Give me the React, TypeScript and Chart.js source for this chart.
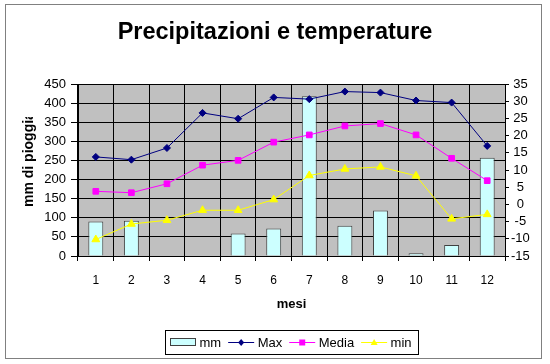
import React, { useEffect, useRef } from 'react';
import { Chart, registerables } from 'chart.js';

Chart.register(...registerables);

const FONT = "'Liberation Sans', Arial, Helvetica, sans-serif";

const chartTitle = 'Precipitazioni e temperature';
const xTitle = 'mesi';
const yTitle = 'mm di pioggia';

const months = ['1', '2', '3', '4', '5', '6', '7', '8', '9', '10', '11', '12'];
const rainfall = [90, 92, 0, 0, 59, 72, 418, 79, 119, 7, 29, 257];
const tempMax = [13.8, 13.0, 16.4, 26.6, 24.9, 31.1, 30.6, 32.8, 32.5, 30.2, 29.6, 17.0];
const tempMedia = [3.8, 3.4, 6.0, 11.4, 12.8, 18.1, 20.2, 22.8, 23.5, 20.2, 13.4, 6.9];
const tempMin = [-10.2, -5.7, -4.6, -1.7, -1.7, 1.4, 8.4, 10.3, 10.9, 8.3, -4.2, -2.9];

const seriesNames = ['mm', 'Max', 'Media', 'min'];

const BAR_FILL = '#ccffff';
const BAR_BORDER = '#404040';
const MAX_COLOR = '#000080';
const MEDIA_COLOR = '#ff00ff';
const MIN_COLOR = '#ffff00';

function drawMarker(ctx: CanvasRenderingContext2D, style: string, x: number, y: number, color: string) {
  ctx.save();
  ctx.fillStyle = color;
  ctx.strokeStyle = color;
  ctx.beginPath();
  if (style === 'diamond') {
    ctx.moveTo(x, y - 3.5);
    ctx.lineTo(x + 3, y);
    ctx.lineTo(x, y + 3.5);
    ctx.lineTo(x - 3, y);
    ctx.closePath();
  } else if (style === 'square') {
    ctx.rect(x - 3, y - 3, 6, 6);
  } else {
    ctx.moveTo(x, y - 3.5);
    ctx.lineTo(x + 3.5, y + 2.5);
    ctx.lineTo(x - 3.5, y + 2.5);
    ctx.closePath();
  }
  ctx.fill();
  ctx.restore();
}

const decorPlugin = {
  id: 'decor',
  beforeDraw(chart: any) {
    const { ctx, chartArea: a } = chart;
    ctx.save();
    ctx.fillStyle = '#ffffff';
    ctx.fillRect(0, 0, chart.width, chart.height);
    ctx.strokeStyle = '#808080';
    ctx.lineWidth = 1;
    ctx.strokeRect(5.5, 4.5, 536, 354);
    ctx.fillStyle = '#c0c0c0';
    ctx.fillRect(a.left, a.top, a.right - a.left, a.bottom - a.top);
    ctx.restore();
  },
  afterDraw(chart: any) {
    const { ctx } = chart;
    // rotated left axis title (clipped like the original)
    ctx.save();
    ctx.beginPath();
    ctx.rect(0, 117, 78, 200);
    ctx.clip();
    ctx.translate(29, 207);
    ctx.rotate(-Math.PI / 2);
    ctx.font = `bold 14px ${FONT}`;
    ctx.textAlign = 'left';
    ctx.textBaseline = 'middle';
    ctx.fillStyle = '#000000';
    ctx.fillText(yTitle, 0, 0);
    ctx.restore();

    // legend
    ctx.save();
    ctx.font = `13px ${FONT}`;
    ctx.textBaseline = 'alphabetic';
    ctx.textAlign = 'left';
    const boxLeft = 165.5;
    const boxTop = 330.5;
    const boxRight = 418.5;
    const boxBottom = 354.5;
    ctx.fillStyle = '#ffffff';
    ctx.fillRect(boxLeft, boxTop, boxRight - boxLeft, boxBottom - boxTop);
    ctx.strokeStyle = '#000000';
    ctx.lineWidth = 1;
    ctx.strokeRect(boxLeft, boxTop, boxRight - boxLeft, boxBottom - boxTop);
    const midY = 342;
    const baseY = 347;
    let x = 170;
    const colors = [BAR_FILL, MAX_COLOR, MEDIA_COLOR, MIN_COLOR];
    const markers = ['', 'diamond', 'square', 'triangle'];
    seriesNames.forEach((name, i) => {
      const sw = 26;
      if (i === 0) {
        ctx.fillStyle = BAR_FILL;
        ctx.fillRect(x, 338, sw, 7);
        ctx.strokeStyle = BAR_BORDER;
        ctx.strokeRect(x + 0.5, 338.5, sw - 1, 7);
      } else {
        ctx.strokeStyle = colors[i];
        ctx.lineWidth = 1;
        ctx.beginPath();
        ctx.moveTo(x, midY + 0.5);
        ctx.lineTo(x + sw, midY + 0.5);
        ctx.stroke();
        drawMarker(ctx, markers[i], x + sw / 2, midY + 0.5, colors[i]);
      }
      x += sw + 3.5;
      ctx.fillStyle = '#000000';
      ctx.fillText(name, x, baseY);
      x += ctx.measureText(name).width + 7;
    });
    ctx.restore();
  },
};

export default function App() {
  const canvasRef = useRef<HTMLCanvasElement | null>(null);

  useEffect(() => {
    if (!canvasRef.current) return;
    const tickFont = { family: FONT, size: 13 };
    const chart = new Chart(canvasRef.current, {
      type: 'bar',
      data: {
        labels: months,
        datasets: [
          {
            type: 'bar',
            label: seriesNames[0],
            data: rainfall,
            yAxisID: 'y',
            backgroundColor: BAR_FILL,
            borderColor: BAR_BORDER,
            borderWidth: 1,
            barPercentage: 0.42,
            categoryPercentage: 1,
            order: 10,
          },
          {
            type: 'line',
            label: seriesNames[1],
            data: tempMax,
            yAxisID: 'y1',
            borderColor: MAX_COLOR,
            backgroundColor: MAX_COLOR,
            borderWidth: 1,
            pointStyle: 'rectRot',
            pointRadius: 3.5,
            pointBorderWidth: 1,
            tension: 0,
            order: 3,
          },
          {
            type: 'line',
            label: seriesNames[2],
            data: tempMedia,
            yAxisID: 'y1',
            borderColor: MEDIA_COLOR,
            backgroundColor: MEDIA_COLOR,
            borderWidth: 1,
            pointStyle: 'rect',
            pointRadius: 4,
            pointBorderWidth: 1,
            tension: 0,
            order: 2,
          },
          {
            type: 'line',
            label: seriesNames[3],
            data: tempMin,
            yAxisID: 'y1',
            borderColor: MIN_COLOR,
            backgroundColor: MIN_COLOR,
            borderWidth: 1,
            pointStyle: 'triangle',
            pointRadius: 4.5,
            pointBorderWidth: 1,
            tension: 0,
            order: 1,
          },
        ],
      },
      options: {
        responsive: false,
        animation: false,
        layout: { padding: { top: 0, left: 0, right: 0, bottom: 44 } },
        plugins: {
          legend: { display: false },
          tooltip: { enabled: false },
          title: {
            display: true,
            text: chartTitle,
            color: '#000000',
            font: { family: FONT, size: 23.5, weight: 'bold' },
            padding: { top: 18.8, bottom: 37 },
          },
        },
        scales: {
          x: {
            type: 'category',
            offset: true,
            grid: { color: '#000000', lineWidth: 1, tickLength: 5, offset: true },
            border: { display: true, color: '#000000' },
            ticks: { color: '#000000', font: { family: FONT, size: 12 }, padding: 12, maxRotation: 0, autoSkip: false },
            title: {
              display: true,
              text: xTitle,
              color: '#000000',
              font: { family: FONT, size: 13, weight: 'bold' },
              padding: { top: 0, bottom: 7.4 },
            },
            afterFit: (scale: any) => {
              scale.height = 64;
            },
          },
          y: {
            type: 'linear',
            position: 'left',
            min: 0,
            max: 450,
            grid: { color: '#000000', lineWidth: 1, tickLength: 7 },
            border: { display: true, color: '#000000' },
            ticks: { stepSize: 50, color: '#000000', font: tickFont, padding: 5, autoSkip: false },
            afterFit: (scale: any) => {
              scale.width = 78;
            },
          },
          y1: {
            type: 'linear',
            position: 'right',
            min: -15,
            max: 35,
            grid: { drawOnChartArea: false, color: '#000000', tickLength: 4 },
            border: { display: true, color: '#000000' },
            ticks: { stepSize: 5, color: '#000000', font: tickFont, padding: 2, crossAlign: 'center', autoSkip: false },
            afterFit: (scale: any) => {
              scale.width = 45;
            },
          },
        },
      },
      plugins: [decorPlugin],
    } as any);
    return () => chart.destroy();
  }, []);

  return (
    <div style={{ position: 'absolute', left: 0, top: 0, width: 550, height: 364 }}>
      <canvas ref={canvasRef} width={550} height={364} style={{ display: 'block' }} />
    </div>
  );
}
